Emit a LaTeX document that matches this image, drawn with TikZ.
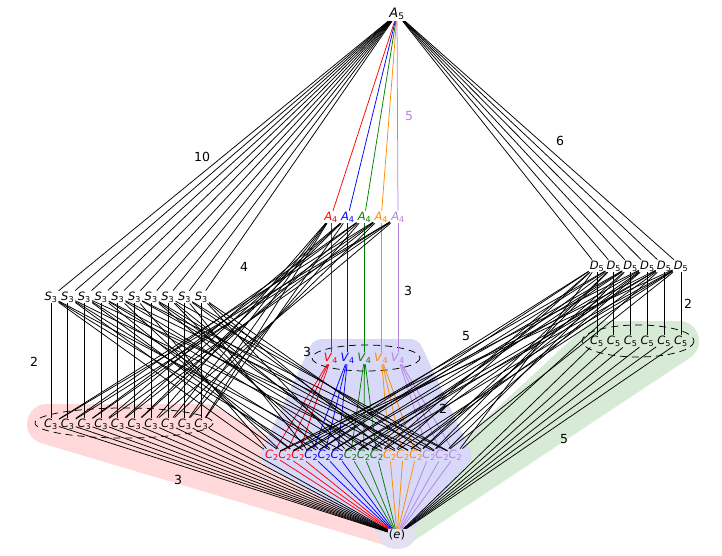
\documentclass[tikz,border=0pt]{standalone}
\usepackage{fontspec}
\setmainfont{DejaVu Sans}

\definecolor{cred}{RGB}{255,0,0}
\definecolor{cblue}{RGB}{0,0,255}
\definecolor{cgreen}{RGB}{0,128,0}
\definecolor{corange}{RGB}{255,140,0}
\definecolor{cpurple}{RGB}{180,130,230}
\definecolor{fillred}{RGB}{255,217,217}
\definecolor{fillblue}{RGB}{216,216,248}
\definecolor{fillgreen}{RGB}{214,234,214}
\definecolor{fille}{RGB}{228,224,242}

\newcommand{\grp}[2]{\textit{#1}\textsubscript{#2}}

\begin{document}
\begin{tikzpicture}[
    x=1pt, y=-1pt,
    grpnode/.style={inner sep=1pt, font=\fontsize{11.5}{13}\selectfont},
    edge/.style={draw=black, line width=0.75pt},
    idx/.style={font=\fontsize{12.5}{14}\selectfont},
    zone/.style={line width=#1, line join=round},
    orbit/.style={draw=black, line width=0.75pt, dash pattern=on 7pt off 5pt}
]
\useasboundingbox (0,0) rectangle (722,556);

% Obszary zacienione pod klasami sprzezonosci
\filldraw[zone=40pt, draw=fillred, fill=fillred] (47,424) -- (205,424) -- (397,528) -- cycle;
\filldraw[zone=40pt, draw=fillgreen, fill=fillgreen] (599,341) -- (679,341) -- (397,528) -- cycle;
\filldraw[zone=26pt, draw=fillblue, fill=fillblue] (322,352) -- (410,352) -- (458,455) -- (397,528) -- (274,455) -- cycle;
\fill[fille] (397,536) ellipse (18 and 13);

% Przerywane elipsy wokol klas
\draw[orbit] (124,423) ellipse (89 and 15);
\draw[orbit] (366,358) ellipse (54 and 13);
\draw[orbit] (638,341) ellipse (56 and 16);

% Wierzcholek gorny i dolny
\node[grpnode, font=\fontsize{13}{15}\selectfont] (top) at (397,14) {\grp{A}{5}};
\node[grpnode] (e) at (397,535) {(\textit{e})};

% Podgrupy A4 i V4 (kolorowe)
\foreach \i/\col in {1/cred, 2/cblue, 3/cgreen, 4/corange, 5/cpurple} {
  \pgfmathsetmacro\xx{331+16.75*(\i-1)}
  \node[grpnode, text=\col] (a\i) at (\xx,217) {\grp{A}{4}};
  \node[grpnode, text=\col] (v\i) at (\xx,358) {\grp{V}{4}};
}

% Podgrupy C2 (kolor jak V4, ktora je zawiera)
\foreach \i/\col in {1/cred, 2/cblue, 3/cgreen, 4/corange, 5/cpurple} {
  \foreach \p in {1,2,3} {
    \pgfmathtruncatemacro\m{3*(\i-1)+\p}
    \pgfmathsetmacro\xx{272+13.1*(\m-1)}
    \node[grpnode, text=\col] (c\m) at (\xx,455) {\grp{C}{2}};
  }
}

% Podgrupy S3 i C3
\foreach \k in {1,...,10} {
  \pgfmathsetmacro\xx{51+16.7*(\k-1)}
  \node[grpnode] (s\k) at (\xx,297) {\grp{S}{3}};
  \node[grpnode] (t\k) at (\xx,424) {\grp{C}{3}};
}

% Podgrupy D5 i C5
\foreach \j in {1,...,6} {
  \pgfmathsetmacro\xx{597+16.8*(\j-1)}
  \node[grpnode] (d\j) at (\xx,266) {\grp{D}{5}};
  \node[grpnode] (f\j) at (\xx,341) {\grp{C}{5}};
}

% Krawedzie kolorowe: A5 - A4 - V4 - C2 - (e)
\foreach \i/\col in {1/cred, 2/cblue, 3/cgreen, 4/corange, 5/cpurple} {
  \draw[edge, draw=\col] (top) -- (a\i);
  \draw[edge, draw=\col] (a\i) -- (v\i);
  \foreach \p in {1,2,3} {
    \pgfmathtruncatemacro\m{3*(\i-1)+\p}
    \draw[edge, draw=\col] (v\i) -- (c\m);
    \draw[edge, draw=\col] (c\m) -- (e);
  }
}

% Krawedzie A5 - S3 - C3 - (e)
\foreach \k in {1,...,10} {
  \draw[edge] (top) -- (s\k);
  \draw[edge] (s\k) -- (t\k);
  \draw[edge] (t\k) -- (e);
}

% Krawedzie A5 - D5 - C5 - (e)
\foreach \j in {1,...,6} {
  \draw[edge] (top) -- (d\j);
  \draw[edge] (d\j) -- (f\j);
  \draw[edge] (f\j) -- (e);
}

% Krawedzie A4 - C3
\foreach \i/\lst in {1/{7,8,9,10}, 2/{4,5,6,10}, 3/{2,3,6,9}, 4/{1,3,5,8}, 5/{1,2,4,7}}
  \foreach \k in \lst
    \draw[edge] (a\i) -- (t\k);

% Krawedzie S3 - C2
\foreach \k/\lst in {1/{1,4,7}, 2/{2,5,10}, 3/{3,6,13}, 4/{3,8,11}, 5/{2,9,14},
                     6/{1,12,15}, 7/{6,9,12}, 8/{5,8,15}, 9/{4,11,14}, 10/{7,10,13}}
  \foreach \m in \lst
    \draw[edge] (s\k) -- (c\m);

% Krawedzie D5 - C2
\foreach \j/\lst in {1/{3,4,9,10,15}, 2/{2,4,8,12,13}, 3/{3,5,7,12,14},
                     4/{1,5,9,11,13}, 5/{2,6,7,11,15}, 6/{1,6,8,10,14}}
  \foreach \m in \lst
    \draw[edge] (d\j) -- (c\m);

% Indeksy podgrup
\node[idx] (i10) at (202,157) {10};
\node[idx] (i6) at (560,141) {6};
\node[idx, text=cpurple] (i5a) at (409,116) {5};
\node[idx] (i4) at (244,267) {4};
\node[idx] (i3a) at (408,291) {3};
\node[idx] (i2a) at (34,362) {2};
\node[idx] (i3b) at (307,352) {3};
\node[idx] (i5b) at (466,336) {5};
\node[idx] (i2b) at (688,304) {2};
\node[idx] (i2c) at (443,409) {2};
\node[idx] (i3c) at (178,480) {3};
\node[idx] (i5c) at (564,439) {5};

\end{tikzpicture}
\end{document}
